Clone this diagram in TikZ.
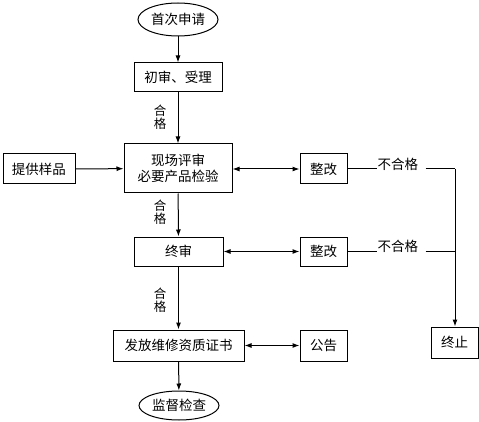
\documentclass[tikz,border=0pt]{standalone}
\usepackage{fontspec}
\setmainfont{Noto Sans CJK SC}
\usetikzlibrary{shapes.geometric, arrows.meta, calc, positioning}

\begin{document}
\begin{tikzpicture}[
    x=1pt, y=-1pt,
    line width=1pt,
    font=\fontsize{13.5}{16}\selectfont,
    arrowstyle/.style={draw, -{Latex[length=7pt,width=5pt]}},
    bothstyle/.style={draw, {Latex[length=7pt,width=5pt]}-{Latex[length=7pt,width=5pt]}},
    stage/.style={rectangle, draw, inner sep=0pt, text centered},
    terminal/.style={ellipse, draw, inner sep=0pt, text centered},
    passlabel/.style={inner sep=0pt, align=center, font=\fontsize{12.5}{12.5}\selectfont},
    faillabel/.style={inner sep=0pt, anchor=west}
]
\useasboundingbox (0,0) rectangle (479,422);

% main column
\node (Start) [terminal, minimum width=80pt, minimum height=33pt] at (178,19.5) {首次申请};
\node (Accept) [stage, minimum width=88pt, minimum height=29pt] at (178,77.5) {初审、受理};
\node (Review) [stage, minimum width=108pt, minimum height=49pt, align=center] at (178,168.5) {现场评审\\必要产品检验};
\node (Final) [stage, minimum width=89pt, minimum height=29pt] at (178.5,251.5) {终审};
\node (Issue) [stage, minimum width=131pt, minimum height=31pt] at (178.5,345.5) {发放维修资质证书};
\node (Audit) [terminal, minimum width=80pt, minimum height=29pt] at (179,405.5) {监督检查};

% side boxes
\node (Sample) [stage, minimum width=72pt, minimum height=30pt] at (39,169) {提供样品};
\node (Fix01) [stage, minimum width=47pt, minimum height=30pt] at (323.5,169) {整改};
\node (Fix02) [stage, minimum width=47pt, minimum height=29pt] at (323.5,251.5) {整改};
\node (Notice) [stage, minimum width=47pt, minimum height=31pt] at (323.5,345.5) {公告};
\node (Stop) [stage, minimum width=47pt, minimum height=31pt] at (454.5,342.5) {终止};

% labels
\node (Pass01) [passlabel] at (160,117) {合\\格};
\node (Pass02) [passlabel] at (160,212) {合\\格};
\node (Pass03) [passlabel] at (160,300) {合\\格};
\node (Fail01) [faillabel] at (377,164.5) {不合格};
\node (Fail02) [faillabel] at (377,246.5) {不合格};
\coordinate (Turn01) at (455,169);
\coordinate (Turn02) at (455,251.5);

\draw[arrowstyle] (Start) -- (Accept);
\draw[arrowstyle] (Accept) -- (Review);
\draw[arrowstyle] (Review) -- (Final);
\draw[arrowstyle] (Final) -- (Issue);
\draw[arrowstyle] (Issue) -- (Audit);
\draw[arrowstyle] (Sample) -- (Review);

\draw[bothstyle] (Review.east |- Fix01) -- (Fix01.west);
\draw[bothstyle] (Final) -- (Fix02);
\draw[bothstyle] (Issue) -- (Notice);

\draw (Fix01.east) -- (Fix01.east -| Fail01.west);
\draw ([xshift=7pt]Turn01 -| Fail01.east) -- (Turn01);
\draw (Fix02.east) -- (Fix02.east -| Fail02.west);
\draw ([xshift=7pt]Turn02 -| Fail02.east) -- (Turn02);
\draw[arrowstyle] (Turn01) -- (Stop.north -| Turn01);

\end{tikzpicture}
\end{document}
